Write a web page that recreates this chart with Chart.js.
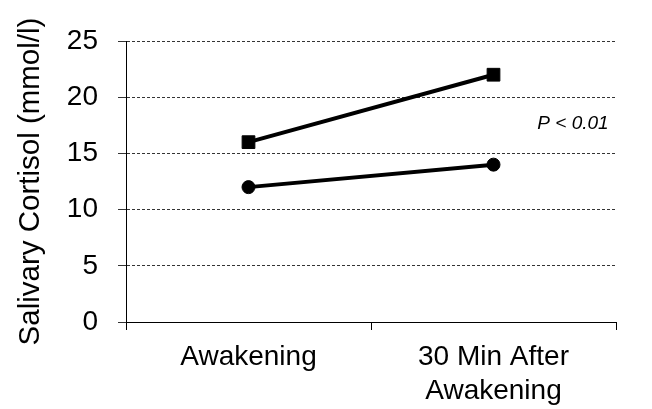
<!DOCTYPE html>
<html lang="en">
<head>
<meta charset="UTF-8">
<title>Salivary Cortisol</title>
<script src="https://cdn.jsdelivr.net/npm/chart.js"></script>
<style>
  html, body { margin: 0; padding: 0; background: #fff; }
  #wrap { width: 652px; height: 409px; position: relative; }
</style>
</head>
<body>
<div id="wrap"><canvas id="chart" width="652" height="409"></canvas></div>
<script>
// data
const categories = [['Awakening'], ['30 Min After', 'Awakening']];
const squareValues = [16, 22];
const circleValues = [12, 14];
const yTicks = [0, 5, 10, 15, 20, 25];
const yTitle = 'Salivary Cortisol (mmol/l)';
const pText = 'P < 0.01';
const pValueY = 17.6; // where the note sits on the y scale

const font = 'Arial, "Liberation Sans", sans-serif';

// small plugin for the italic P note
const noteLabel = {
  id: 'noteLabel',
  afterDatasetsDraw(chart) {
    const c = chart.ctx;
    const y = chart.scales.y.getPixelForValue(pValueY);
    const x = chart.chartArea.right - 43;
    c.save();
    c.font = 'italic 19px ' + font;
    c.fillStyle = '#000';
    c.textAlign = 'center';
    c.textBaseline = 'middle';
    c.fillText(pText, x, y);
    c.restore();
  }
};

new Chart(document.getElementById('chart'), {
  type: 'line',
  data: {
    labels: categories,
    datasets: [
      {
        data: squareValues,
        borderColor: '#000',
        backgroundColor: '#000',
        borderWidth: 4,
        pointStyle: 'rect',
        pointRadius: 9,
        pointBorderWidth: 1,
        tension: 0
      },
      {
        data: circleValues,
        borderColor: '#000',
        backgroundColor: '#000',
        borderWidth: 4,
        pointStyle: 'circle',
        pointRadius: 6.5,
        pointBorderWidth: 1,
        tension: 0
      }
    ]
  },
  options: {
    responsive: false,
    animation: false,
    layout: { padding: { top: 41, right: 36, left: 0, bottom: 0 } },
    plugins: {
      legend: { display: false },
      tooltip: { enabled: false }
    },
    scales: {
      x: {
        offset: true,
        grid: {
          offset: true,
          drawOnChartArea: false,
          drawTicks: true,
          tickLength: 8,
          color: '#000'
        },
        border: { color: '#000', width: 1 },
        ticks: {
          color: '#000',
          font: { family: font, size: 28, lineHeight: 1.21 },
          padding: 10,
          maxRotation: 0
        },
        afterFit(scale) { scale.height = 87; }
      },
      y: {
        min: 0,
        max: 25,
        afterBuildTicks(scale) { scale.ticks = yTicks.map(v => ({ value: v })); },
        grid: {
          color: '#000',
          lineWidth: 0.8,
          tickLength: 8,
          tickBorderDash: []
        },
        border: { color: '#000', width: 1, dash: [3, 2] },
        ticks: {
          color: '#000',
          font: { family: font, size: 28 },
          padding: 20
        },
        title: {
          display: true,
          text: yTitle,
          color: '#000',
          font: { family: font, size: 29.5, lineHeight: 1.2 },
          padding: { top: 13, bottom: 0 }
        },
        afterFit(scale) { scale.width = 126; }
      }
    }
  },
  plugins: [noteLabel]
});
</script>
</body>
</html>
